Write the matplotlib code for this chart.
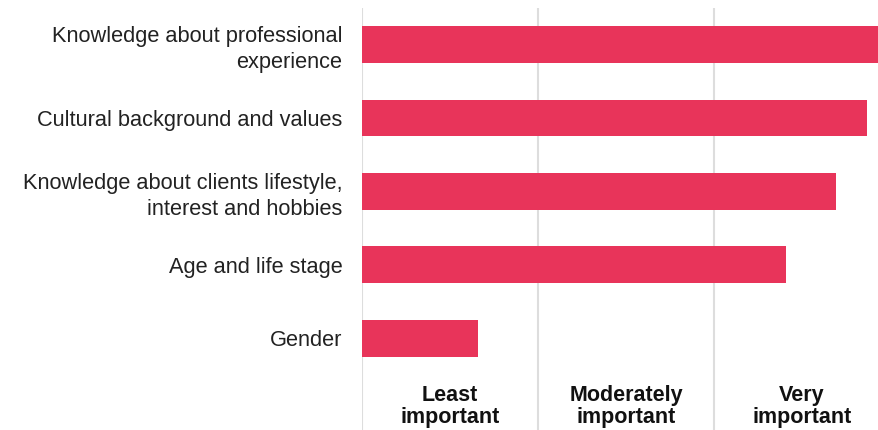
import matplotlib.pyplot as plt

plt.rcParams['font.family'] = ['Liberation Sans', 'DejaVu Sans']

labels = ['Knowledge about professional\nexperience',
          'Cultural background and values',
          'Knowledge about clients lifestyle,\ninterest and hobbies',
          'Age and life stage',
          'Gender']
values = [3.93, 3.87, 3.69, 3.41, 1.66]
scale_labels = ['Least\nimportant', 'Moderately\nimportant', 'Very\nimportant']
scale_pos = [1.5, 2.5, 3.5]

fig = plt.figure(figsize=(8.781, 4.301), dpi=100)
ax = fig.add_axes([362 / 878, 0, 516 / 878, 422 / 430])

ypos = list(range(len(labels)))
ax.barh(ypos, [v - 1 for v in values], left=1, height=0.5, color='#E8345A', zorder=2)

# set ticks before limits, otherwise set_xticks widens the view
ax.set_xticks([1, 2, 3])
ax.set_xlim(1, 1 + 516 / 176)
ax.set_ylim(5.25, -0.5)
ax.xaxis.grid(True, color='#dddddd', linewidth=1.5, zorder=0)
ax.tick_params(axis='x', length=0, labelbottom=False)
ax.set_yticks(ypos)
ax.set_yticklabels(labels, fontsize=15.7, color='#222222', linespacing=1.3)
ax.tick_params(axis='y', length=0, pad=14)
for s in ax.spines.values():
    s.set_visible(False)

for x, t in zip(scale_pos, scale_labels):
    ax.text(x, 4.93, t, ha='center', va='center', fontsize=15.5,
            fontweight='bold', color='#111111', linespacing=1.1)

fig.savefig('out.png', dpi=100)
